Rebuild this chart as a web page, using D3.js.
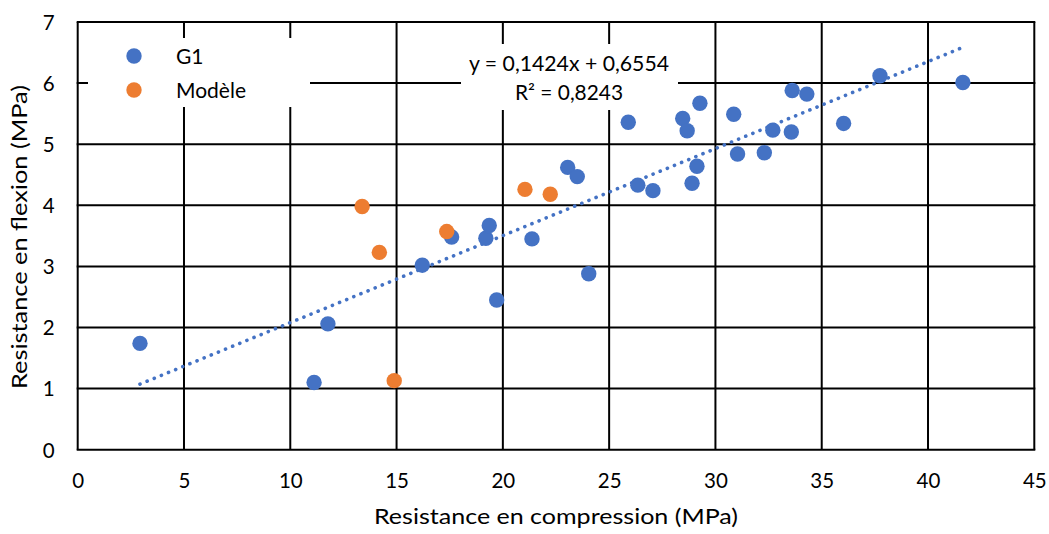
<!DOCTYPE html>
<html><head><meta charset="utf-8">
<script src="https://cdn.jsdelivr.net/npm/d3@7"></script>
<style>body{margin:0;background:#fff}svg{display:block}text{font-family:Lato,"Open Sans",sans-serif;fill:#000}</style>
</head><body>
<script>
const g1X = [2.93,11.12,11.77,16.21,17.59,19.2,19.36,19.71,21.37,24.04,23.05,23.5,25.9,26.35,27.06,28.46,28.67,28.9,29.13,29.27,30.86,31.04,32.3,32.7,33.61,33.57,34.3,36.03,37.74,41.64];
const g1Y = [1.74,1.10,2.06,3.02,3.48,3.46,3.67,2.45,3.45,2.88,4.62,4.47,5.36,4.33,4.24,5.42,5.22,4.36,4.64,5.67,5.49,4.84,4.86,5.23,5.88,5.20,5.82,5.34,6.12,6.01];
const modX = [13.38,14.19,14.89,17.36,21.04,22.23];
const modY = [3.98,3.23,1.13,3.57,4.26,4.18];
const xTicks = [0,5,10,15,20,25,30,35,40,45];
const yTicks = [0,1,2,3,4,5,6,7];
const slope = 0.1424, intercept = 0.6554;
const seriesNames = ["G1","Modèle"];
const colors = ["#4472C4","#ED7D31"];
const trendText = ["y = 0,1424x + 0,6554","R² = 0,8243"];

const W=1049,H=534;
const svg=d3.select("body").append("svg").attr("width",W).attr("height",H);
const x=d3.scaleLinear().domain([0,45]).range([77.7,1034.3]);
const y=d3.scaleLinear().domain([0,7]).range([449.7,22]);

// grid
const grid=svg.append("g");
grid.selectAll("line.v").data(xTicks).join("line")
  .attr("x1",d=>x(d)).attr("x2",d=>x(d)).attr("y1",y(0)).attr("y2",y(7))
  .attr("stroke","#000").attr("stroke-width",2);
grid.selectAll("line.h").data(yTicks).join("line")
  .attr("y1",d=>y(d)).attr("y2",d=>y(d)).attr("x1",x(0)-1).attr("x2",x(45)+1)
  .attr("stroke","#000").attr("stroke-width",2);

// axes (labels only)
const xAxis=d3.axisBottom(x).tickValues(xTicks).tickSize(0).tickPadding(0).tickFormat(d3.format("d"));
const gx=svg.append("g").attr("transform",`translate(0,${y(0)})`).call(xAxis);
gx.select(".domain").remove();
gx.selectAll("text").attr("y",38).attr("dy",null).style("font-size","20.5px").style("font-family","Lato");
const yAxis=d3.axisLeft(y).tickValues(yTicks).tickSize(0).tickPadding(0).tickFormat(d3.format("d"));
const gy=svg.append("g").attr("transform",`translate(${x(0)},0)`).call(yAxis);
gy.select(".domain").remove();
gy.selectAll("text").attr("x",-23).attr("dy","0.36em").style("font-size","20.5px").style("font-family","Lato");

// axis titles
svg.append("text").attr("x",556).attr("y",524).attr("text-anchor","middle")
  .style("font-size","21px").attr("textLength",364).attr("lengthAdjust","spacingAndGlyphs")
  .text("Resistance en compression (MPa)");
svg.append("text").attr("transform","translate(27,237) rotate(-90)").attr("text-anchor","middle")
  .style("font-size","21px").attr("textLength",304).attr("lengthAdjust","spacingAndGlyphs")
  .text("Resistance en flexion (MPa)");

// trendline
const tx=[d3.min(g1X),d3.max(g1X)];
svg.append("path").datum(tx)
  .attr("d",d3.line().x(d=>x(d)).y(d=>y(slope*d+intercept)))
  .attr("stroke",colors[0]).attr("stroke-width",3.6).attr("stroke-linecap","round")
  .attr("stroke-dasharray","0.1 7.6").attr("fill","none");

// trend label
svg.append("rect").attr("x",461).attr("y",44).attr("width",217).attr("height",66).attr("fill","#fff");
svg.append("g").selectAll("text").data(trendText).join("text")
  .attr("x",569).attr("y",(d,i)=>71+i*29).attr("text-anchor","middle").style("font-size","21px")
  .attr("textLength",(d,i)=>i===0?200:108).attr("lengthAdjust","spacingAndGlyphs").text(d=>d);

// points
svg.append("g").selectAll("circle").data(g1X.map((v,i)=>[v,g1Y[i]])).join("circle")
  .attr("cx",d=>x(d[0])).attr("cy",d=>y(d[1])).attr("r",7.7).attr("fill",colors[0]);
svg.append("g").selectAll("circle").data(modX.map((v,i)=>[v,modY[i]])).join("circle")
  .attr("cx",d=>x(d[0])).attr("cy",d=>y(d[1])).attr("r",7.7).attr("fill",colors[1]);

// legend
svg.append("rect").attr("x",88).attr("y",38).attr("width",222).attr("height",69).attr("fill","#fff");
const lg=svg.append("g").selectAll("g").data(seriesNames).join("g")
  .attr("transform",(d,i)=>`translate(0,${56+i*34})`);
lg.append("circle").attr("cx",134).attr("cy",0).attr("r",7.7).attr("fill",(d,i)=>colors[i]);
lg.append("text").attr("x",176).attr("dy","0.36em").style("font-size","21px").text(d=>d);
</script>
</body></html>
